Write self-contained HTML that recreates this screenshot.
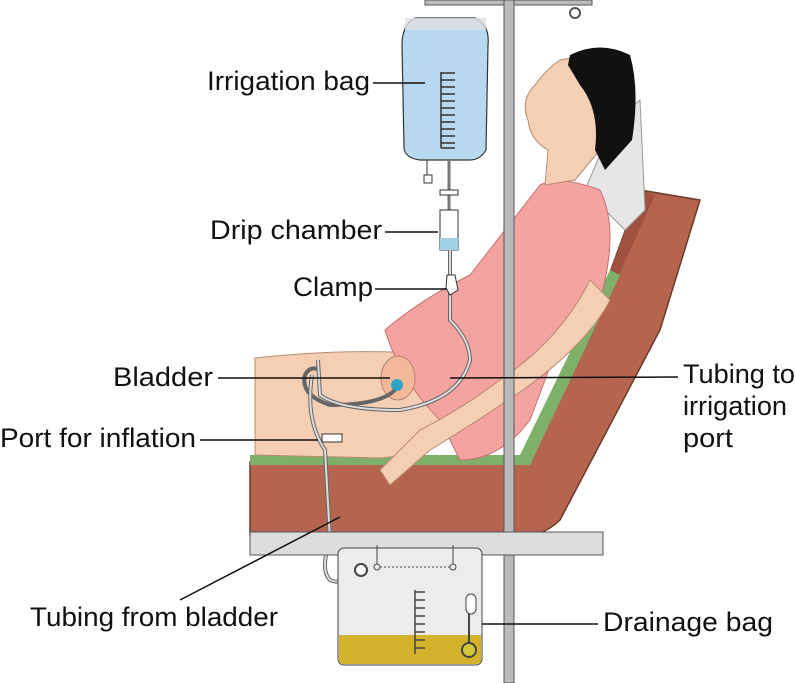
<!DOCTYPE html>
<html><head><style>
body{margin:0;background:#fff;}
svg{display:block;}
text{font-family:"Liberation Sans",sans-serif;font-size:27px;fill:#111;}
</style></head><body>
<svg width="795" height="683" viewBox="0 0 795 683" xmlns="http://www.w3.org/2000/svg">
<!-- bed back -->
<path d="M250,462 L520,462 L600,300 L640,190 L700,200 L660,330 L560,520 Q540,540 500,540 L250,535 Z" fill="#b5654e" stroke="#6a3a2a" stroke-width="1.5"/>
<path d="M520,462 L600,300 L640,190 L655,195 L590,340 Z" fill="#a0523f"/>
<!-- green pad -->
<path d="M250,455 L520,455 L610,270 L620,275 L530,465 L250,465 Z" fill="#7fb06a"/>
<!-- pillow -->
<path d="M585,190 L615,120 L640,100 L645,210 L625,230 Z" fill="#e6e6e6" stroke="#999" stroke-width="1"/>
<!-- legs -->
<path d="M255,358 Q330,350 390,352 L450,350 L470,420 Q430,455 380,458 L255,455 Z" fill="#f5cfb4" stroke="#b88a70" stroke-width="1"/>
<!-- gown -->
<path d="M385,330 Q420,300 470,275 L540,185 Q560,175 600,190 Q620,230 600,300 L560,340 L530,420 Q500,460 460,460 L440,420 Q400,380 385,330 Z" fill="#f4a3a0" stroke="#c87070" stroke-width="1"/>
<!-- arm -->
<path d="M590,280 Q560,340 500,380 Q460,410 420,430 L380,470 L390,485 L430,450 Q480,420 530,385 Q590,340 610,300 Z" fill="#f5cfb4" stroke="#b88a70" stroke-width="1"/>
<!-- head -->
<path d="M545,185 L548,150 Q530,140 528,120 Q520,100 535,85 Q545,70 560,60 L590,55 L600,150 L575,180 Z" fill="#f5cfb4" stroke="#b88a70" stroke-width="1"/>
<path d="M570,55 Q600,40 630,55 Q640,90 632,140 L605,170 L595,150 Q600,110 580,85 L568,65 Z" fill="#111"/>
<!-- bladder -->
<ellipse cx="398" cy="378" rx="17" ry="22" fill="#f2b899" stroke="#b88070"/>
<circle cx="397" cy="385" r="6" fill="#2ea5c8"/>
<!-- pole -->
<rect x="425" y="0" width="167" height="5" fill="#bbb" stroke="#555"/>
<circle cx="575" cy="13" r="5" fill="none" stroke="#555" stroke-width="2"/>
<rect x="504" y="0" width="10" height="683" fill="#bbb" stroke="#555" stroke-width="1"/>
<!-- bag -->
<path d="M415,18 L475,18 Q490,25 488,45 L486,150 Q480,160 470,160 L420,160 Q405,158 404,148 L402,45 Q402,25 415,18 Z" fill="#b7d8ee" stroke="#333" stroke-width="1.2"/>
<path d="M405,30 L486,30 L486,18 L405,18 Z" fill="#e0e0e0" opacity=".8"/>
<g stroke="#333" stroke-width="1.5">
<line x1="441" y1="72" x2="441" y2="148"/>
<line x1="441" y1="73" x2="455" y2="73"/><line x1="441" y1="80" x2="455" y2="80"/><line x1="441" y1="87" x2="455" y2="87"/><line x1="441" y1="94" x2="455" y2="94"/><line x1="441" y1="101" x2="455" y2="101"/><line x1="441" y1="108" x2="455" y2="108"/><line x1="441" y1="115" x2="455" y2="115"/><line x1="441" y1="122" x2="455" y2="122"/><line x1="441" y1="129" x2="455" y2="129"/><line x1="441" y1="136" x2="455" y2="136"/><line x1="441" y1="143" x2="455" y2="143"/><line x1="441" y1="148" x2="455" y2="148"/>
</g>
<rect x="424" y="175" width="8" height="8" fill="#fff" stroke="#333"/>
<line x1="427" y1="160" x2="427" y2="175" stroke="#333"/>
<line x1="449" y1="160" x2="449" y2="210" stroke="#777" stroke-width="3"/>
<rect x="440" y="190" width="18" height="5" fill="#fff" stroke="#333"/>
<rect x="440" y="210" width="18" height="40" fill="#fff" stroke="#333"/>
<rect x="440" y="238" width="18" height="12" fill="#9fd2e8"/>
<!-- tubing -->
<g fill="none" stroke="#666" stroke-width="4">
<path d="M450,250 L450,320 Q470,340 470,360 Q460,400 400,410 Q340,410 320,395 L318,360"/>
<path d="M395,390 Q380,405 330,405 Q300,395 305,375 Q310,365 320,370"/>
<path d="M312,375 Q305,420 325,450 L330,540 Q320,570 330,580 Q340,585 350,575"/>
</g>
<g fill="none" stroke="#ddd" stroke-width="2">
<path d="M450,250 L450,320 Q470,340 470,360 Q460,400 400,410 Q340,410 320,395 L318,360"/>
<path d="M312,375 Q305,420 325,450 L330,540 Q320,570 330,580 Q340,585 350,575"/>
</g>
<path d="M447,275 L455,275 L458,290 L450,295 L446,288 Z" fill="#fff" stroke="#333"/>
<rect x="322" y="434" width="20" height="8" fill="#fff" stroke="#333"/>
<!-- bed bar -->
<rect x="250" y="532" width="353" height="23" fill="#ddd" stroke="#555"/>
<!-- drainage bag -->
<rect x="338" y="548" width="144" height="117" rx="6" fill="#ececec" stroke="#444"/>
<path d="M339,635 L481,635 L481,660 Q481,664 476,664 L344,664 Q339,664 339,660 Z" fill="#d4b22c"/>
<circle cx="361" cy="570" r="6" fill="#fff" stroke="#444" stroke-width="2"/>
<circle cx="377" cy="567" r="3" fill="none" stroke="#444"/><circle cx="453" cy="567" r="3" fill="none" stroke="#444"/>
<line x1="380" y1="567" x2="450" y2="567" stroke="#444" stroke-dasharray="2,2"/>
<path d="M377,564 L377,545 M453,564 L453,545" stroke="#444" fill="none"/>
<g stroke="#444" stroke-width="1.5"><line x1="415" y1="590" x2="415" y2="654"/>
<line x1="415" y1="592" x2="425" y2="592"/><line x1="415" y1="600" x2="425" y2="600"/><line x1="415" y1="608" x2="425" y2="608"/><line x1="415" y1="616" x2="425" y2="616"/><line x1="415" y1="624" x2="425" y2="624"/><line x1="415" y1="632" x2="425" y2="632"/><line x1="415" y1="640" x2="425" y2="640"/><line x1="415" y1="648" x2="425" y2="648"/></g>
<rect x="466" y="594" width="10" height="20" rx="5" fill="#fff" stroke="#444"/>
<line x1="469" y1="614" x2="469" y2="645" stroke="#444" stroke-width="2"/>
<circle cx="469" cy="650" r="7" fill="#d4c53a" stroke="#444" stroke-width="2"/>
<!-- leader lines -->
<g stroke="#111" stroke-width="1.5">
<line x1="373" y1="83" x2="425" y2="83"/>
<line x1="385" y1="232" x2="438" y2="232"/>
<line x1="375" y1="289" x2="447" y2="289"/>
<line x1="218" y1="378" x2="390" y2="378"/>
<line x1="450" y1="378" x2="678" y2="377"/>
<line x1="200" y1="440" x2="318" y2="440"/>
<line x1="180" y1="600" x2="340" y2="517"/>
<line x1="482" y1="624" x2="598" y2="624"/>
</g>
<text x="207" y="90" textLength="163" lengthAdjust="spacingAndGlyphs">Irrigation bag</text>
<text x="210" y="239" textLength="172" lengthAdjust="spacingAndGlyphs">Drip chamber</text>
<text x="293" y="296" textLength="80" lengthAdjust="spacingAndGlyphs">Clamp</text>
<text x="113" y="386" textLength="100" lengthAdjust="spacingAndGlyphs">Bladder</text>
<text x="0" y="447" textLength="196" lengthAdjust="spacingAndGlyphs">Port for inflation</text>
<text x="683" y="383" textLength="112" lengthAdjust="spacingAndGlyphs">Tubing to</text>
<text x="683" y="415" textLength="104" lengthAdjust="spacingAndGlyphs">irrigation</text>
<text x="683" y="447" textLength="50" lengthAdjust="spacingAndGlyphs">port</text>
<text x="30" y="626" textLength="248" lengthAdjust="spacingAndGlyphs">Tubing from bladder</text>
<text x="603" y="631" textLength="170" lengthAdjust="spacingAndGlyphs">Drainage bag</text>
</svg>
</body></html>
